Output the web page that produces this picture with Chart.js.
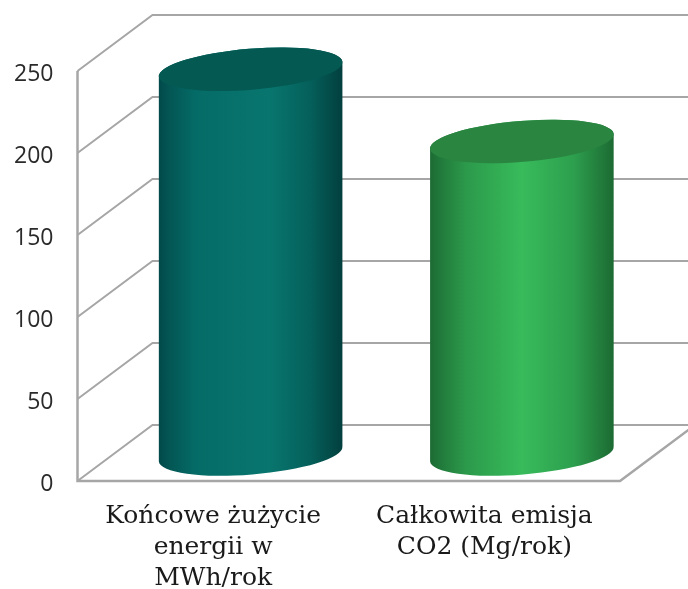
<!DOCTYPE html>
<html>
<head>
<meta charset="utf-8">
<style>
  html, body { margin: 0; padding: 0; background: #fff; }
  canvas { display: block; }
</style>
<script src="https://cdn.jsdelivr.net/npm/chart.js@4/dist/chart.umd.min.js"></script>
</head>
<body>
<canvas id="cylinderChart" width="688" height="589"></canvas>
<script>
const categorias = [
  ['Końcowe żużycie', 'energii w', 'MWh/rok'],
  ['Całkowita emisja', 'CO2 (Mg/rok)']
];
const valores = [234, 190];
const yTicks = [0, 50, 100, 150, 200, 250];

// horizontal shading of each cylinder + colour of its top cap
const gradientes = [
  [[0, '#02494a'], [0.06, '#035654'], [0.2, '#056b66'], [0.6, '#08766e'], [0.82, '#05605b'], [1, '#023f3e']],
  [[0, '#1c6a33'], [0.06, '#217a3b'], [0.2, '#2c9a4b'], [0.5, '#38bb5b'], [0.78, '#2d9f4e'], [1, '#1c6a32']]
];
const tampas = ['#045a53', '#2a8541'];

const lineColor = '#a6a6a6';
const depthX = 75;
const depthY = 56;
const tilt = Math.atan(15 / 184);
const capRadius = 20.5;

function linha(ctx, pontos, width) {
  ctx.beginPath();
  pontos.forEach((p, i) => (i ? ctx.lineTo(p[0], p[1]) : ctx.moveTo(p[0], p[1])));
  ctx.lineWidth = width;
  ctx.strokeStyle = lineColor;
  ctx.stroke();
}

const paredes = {
  id: 'paredes',
  beforeDatasetsDraw(chart) {
    const { ctx, scales: { x, y } } = chart;
    const left = x.left, right = x.right, bottom = y.bottom;
    ctx.save();
    yTicks.forEach(t => {
      const py = y.getPixelForValue(t);
      linha(ctx, [[left, py], [left + depthX, py - depthY], [chart.width, py - depthY]], 2);
    });
    linha(ctx, [[left, y.top], [left, bottom], [right, bottom], [right + depthX, bottom - depthY]], 2.5);
    ctx.restore();
  }
};

const cilindros = {
  id: 'cilindros',
  afterDatasetsDraw(chart) {
    const { ctx } = chart;
    chart.getDatasetMeta(0).data.forEach((bar, i) => {
      const cx = bar.x + depthX / 2;
      const a = bar.width / 2;
      const topY = bar.y - depthY / 2;
      const baseY = bar.base - depthY / 2 + 1;
      const grad = ctx.createLinearGradient(cx - a, 0, cx + a, 0);
      gradientes[i].forEach(s => grad.addColorStop(s[0], s[1]));

      ctx.save();
      ctx.beginPath();
      ctx.ellipse(cx, baseY, a, capRadius, -tilt, 0, Math.PI);
      ctx.ellipse(cx, topY, a, capRadius, -tilt, Math.PI, 0);
      ctx.closePath();
      ctx.fillStyle = grad;
      ctx.fill();

      ctx.beginPath();
      ctx.ellipse(cx, topY, a, capRadius, -tilt, 0, Math.PI * 2);
      ctx.fillStyle = tampas[i];
      ctx.fill();
      ctx.restore();
    });
  }
};

new Chart(document.getElementById('cylinderChart').getContext('2d'), {
  type: 'bar',
  data: {
    labels: categorias,
    datasets: [{
      data: valores,
      backgroundColor: 'rgba(0,0,0,0)',
      barPercentage: 1,
      categoryPercentage: 0.679
    }]
  },
  options: {
    responsive: false,
    animation: false,
    layout: { padding: { top: 71, right: 68, left: 0, bottom: 0 } },
    plugins: { legend: { display: false }, tooltip: { enabled: false } },
    scales: {
      x: {
        grid: { display: false },
        border: { display: false },
        afterFit(scale) { scale.height = 108; },
        ticks: {
          color: '#1a1a1a',
          padding: 12,
          maxRotation: 0,
          font: { family: '"DejaVu Serif"', size: 25, lineHeight: 1.24 }
        }
      },
      y: {
        min: 0,
        max: 250,
        grid: { display: false },
        border: { display: false },
        afterFit(scale) { scale.width = 77.5; },
        afterBuildTicks(scale) { scale.ticks = yTicks.map(v => ({ value: v })); },
        ticks: {
          color: '#2a2a2a',
          padding: 16,
          labelOffset: 3,
          font: { family: '"Open Sans"', size: 23 }
        }
      }
    }
  },
  plugins: [paredes, cilindros]
});
</script>
</body>
</html>
